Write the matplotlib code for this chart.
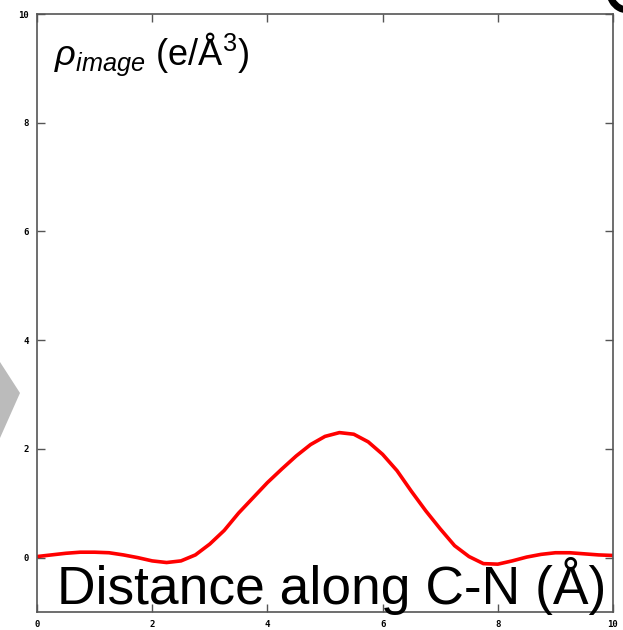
import matplotlib
matplotlib.use('Agg')
import matplotlib.pyplot as plt
from matplotlib.patches import Polygon, Arc

plt.rcParams['mathtext.fontset'] = 'custom'
plt.rcParams['mathtext.rm'] = 'Liberation Sans'
plt.rcParams['mathtext.it'] = 'Liberation Sans:italic'

# data
dist = [0.0, 0.25, 0.5, 0.75, 1.0, 1.25, 1.5, 1.75, 2.0, 2.25, 2.5, 2.75,
        3.0, 3.25, 3.5, 3.75, 4.0, 4.25, 4.5, 4.75, 5.0, 5.25, 5.5, 5.75,
        6.0, 6.25, 6.5, 6.75, 7.0, 7.25, 7.5, 7.75, 8.0, 8.25, 8.5, 8.75,
        9.0, 9.25, 9.5, 9.75, 10.0]
rho = [0.02, 0.05, 0.08, 0.10, 0.10, 0.09, 0.05, 0.0, -0.06, -0.09, -0.06, 0.05,
       0.25, 0.50, 0.82, 1.10, 1.38, 1.63, 1.87, 2.08, 2.23, 2.30, 2.27, 2.13,
       1.90, 1.60, 1.22, 0.86, 0.53, 0.22, 0.02, -0.11, -0.12, -0.06, 0.01, 0.06,
       0.09, 0.09, 0.07, 0.05, 0.04]
xticks = [0, 2, 4, 6, 8, 10]
yticks = [0, 2, 4, 6, 8, 10]

W, H = 623, 630
fig = plt.figure(figsize=(W / 100, H / 100), dpi=100)

# slide leftovers: gray arrow tip on the left, bit of a letter top right
arrow = Polygon([(0 / W, 1 - 362 / H), (20 / W, 1 - 393 / H), (0 / W, 1 - 438 / H)],
                closed=True, transform=fig.transFigure, color='#bbbbbb', lw=0)
fig.patches.append(arrow)
arc = Arc((628 / W, 1 - (-8) / H), 36 / W, 36 / H, theta1=180, theta2=300,
          transform=fig.transFigure, color='black', lw=5)
fig.patches.append(arc)

ax = fig.add_axes([37 / W, 1 - 612 / H, 576 / W, 598 / H])
ax.plot(dist, rho, color='#ff0000', lw=2.6)

ax.set_xlim(0, 10)
ax.set_ylim(-1, 10)
ax.set_xticks(xticks)
ax.set_yticks(yticks)
ax.set_xticklabels([str(t) for t in xticks], fontsize=6.5, fontweight='bold',
                   family='DejaVu Sans Mono')
ax.set_yticklabels([str(t) for t in yticks], fontsize=6.5, fontweight='bold',
                   family='DejaVu Sans Mono')
ax.tick_params(direction='in', length=6, width=1, top=True, right=True,
               color='#555555', pad=6)
for s in ax.spines.values():
    s.set_color('#555555')
    s.set_linewidth(1.2)

ax.text(0.03, 0.972, r'$\rho_{image}$ (e/Å$^3$)', transform=ax.transAxes,
        fontsize=26, family='Liberation Sans', va='top', ha='left')
ax.text(0.512, -0.005, 'Distance along C-N (Å)', transform=ax.transAxes,
        fontsize=38.4, family='Liberation Sans', va='bottom', ha='center')

fig.savefig('out.png', dpi=100)
